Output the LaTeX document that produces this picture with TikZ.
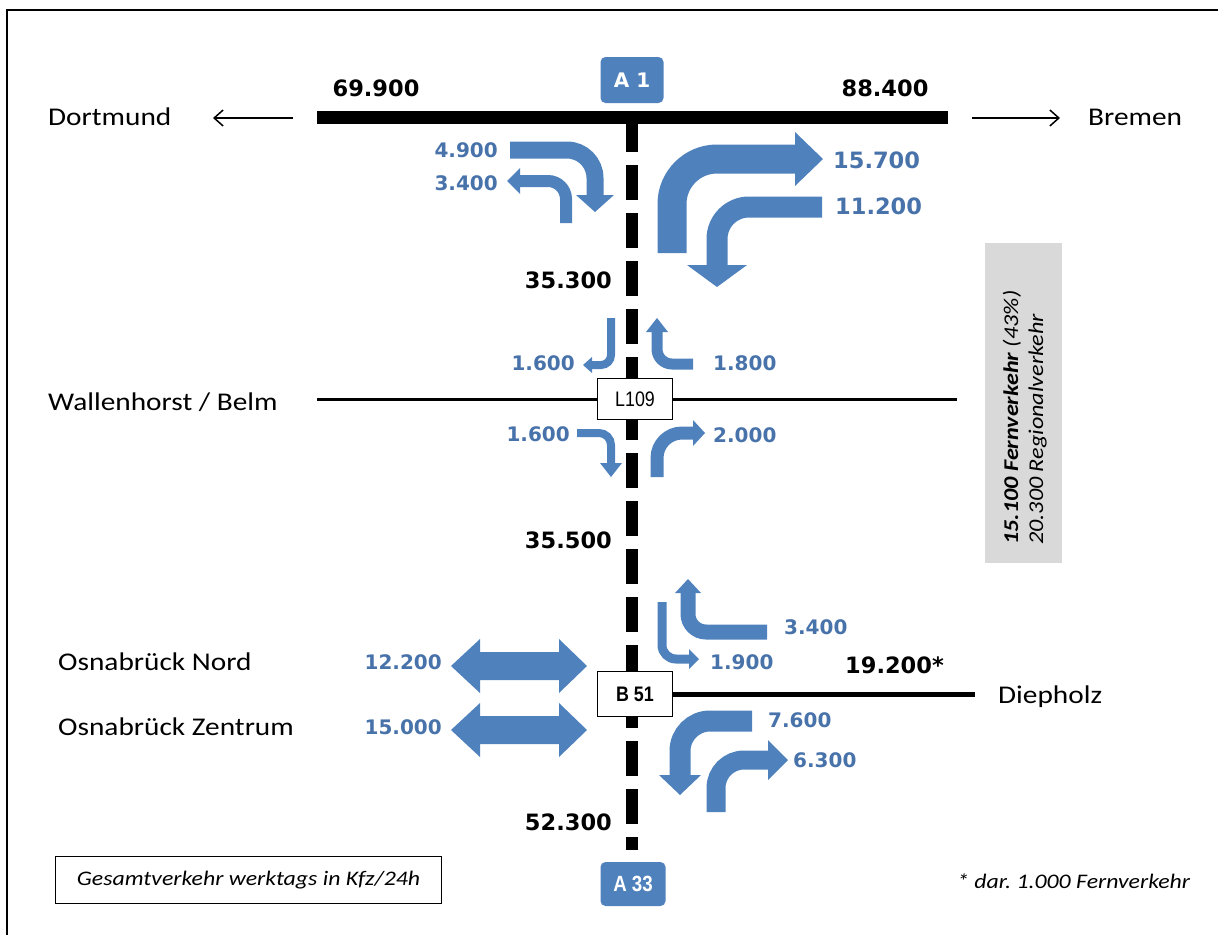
\documentclass[tikz,border=0pt]{standalone}
\usepackage{fontspec}
\usetikzlibrary{arrows.meta}
\frenchspacing
\newfontfamily\placefont[FakeStretch=1.15]{Carlito}
\newfontfamily\numfont{DejaVu Sans}
\newfontfamily\narrowfont[FakeStretch=0.85]{Liberation Sans}
\definecolor{arrowblue}{RGB}{79,129,189}
\definecolor{textblue}{RGB}{72,114,170}
\definecolor{panelgray}{RGB}{217,217,217}
\begin{document}
\begin{tikzpicture}[x=1pt,y=-1pt,
  place/.style={font=\placefont\fontsize{25.5}{30}\selectfont, inner sep=0pt, anchor=base west},
  bignum/.style={font=\numfont\bfseries\fontsize{22.5}{26}\selectfont, inner sep=0pt},
  bluenum/.style={font=\numfont\bfseries\fontsize{20}{24}\selectfont, text=textblue, inner sep=0pt},
  bluebig/.style={font=\numfont\bfseries\fontsize{22.5}{26}\selectfont, text=textblue, inner sep=0pt},
  flow/.style={draw=arrowblue, line width=#1},
  head/.style={fill=arrowblue, draw=none},
  shield/.style={fill=arrowblue, rounded corners=5pt, text=white, inner sep=0pt},
  junction/.style={draw=black, line width=1.2pt, fill=white, inner sep=0pt},
  road/.style={draw=black, line width=#1},
  thinarrow/.style={draw=black, line width=1.5pt, -{Straight Barb[length=9pt,width=16pt]}},
  note/.style={font=\placefont\itshape\fontsize{20.7}{24}\selectfont, inner sep=0pt},
]
\useasboundingbox (0,0) rectangle (1218,935);
% frame
\draw[line width=2.5pt] (7,935) -- (7,10) -- (1218,10);

% roads
\coordinate (dortW) at (317,117);
\coordinate (bremE) at (948,117);
\coordinate (a1top) at (632,117);
\coordinate (a33end) at (632,850);
\draw[road=13pt] (dortW) -- (bremE);
\draw[road=12pt, dash pattern=on 35pt off 13pt] (a1top) -- (a33end);

\node[junction, minimum width=75pt, minimum height=41pt, font=\narrowfont\fontsize{21}{24}\selectfont] (l109) at (635,399) {L109};
\coordinate (wallW) at (317,399);
\coordinate (belmE) at (957,399);
\draw[road=3pt] (wallW) -- (l109.west);
\draw[road=3pt] (l109.east) -- (belmE);

\node[junction, minimum width=75pt, minimum height=45pt, font=\narrowfont\bfseries\fontsize{21}{24}\selectfont] (b51) at (635,694) {B 51};
\coordinate (diepE) at (975,694);
\draw[road=5pt] (b51.east) -- (diepE);

% shields
\node[shield, minimum width=63pt, minimum height=46pt, font=\numfont\bfseries\fontsize{20}{24}\selectfont] (a1) at (632,80) {A 1};
\node[shield, minimum width=65pt, minimum height=44pt, font=\narrowfont\bfseries\fontsize{22}{24}\selectfont] (a33) at (633,884) {A 33};

% places
\node[place] (dortmund) at (48,125) {Dortmund};
\node[place] (bremen) at (1088,125) {Bremen};
\node[place] (wallen) at (48,410) {Wallenhorst / Belm};
\node[place] (osnord) at (58,670) {Osnabrück Nord};
\node[place] (oszent) at (58,735) {Osnabrück Zentrum};
\node[place] (diepholz) at (998,703) {Diepholz};

% direction arrows
\coordinate (dortArrS) at (293,118);
\coordinate (dortArrE) at (213,118);
\coordinate (bremArrS) at (972,118);
\coordinate (bremArrE) at (1060,118);
\draw[thinarrow] (dortArrS) -- (dortArrE);
\draw[thinarrow] (bremArrS) -- (bremArrE);

% totals
\node[bignum] (n699) at (376,88) {69.900};
\node[bignum] (n884) at (885,88) {88.400};
\node[bignum, anchor=east] (n353) at (612,280) {35.300};
\node[bignum, anchor=east] (n355) at (612,540) {35.500};
\node[bignum, anchor=east] (n523) at (612,822) {52.300};
\node[bignum, anchor=west] (n192) at (845,665) {19.200*};

% A1 flows
\draw[flow=17pt, rounded corners=28pt] (510,150) -| (595,196);
\fill[head] (576,195) -- (595,212) -- (614,195) -- cycle;
\draw[flow=12pt, rounded corners=18pt] (566,223) |- (519,181);
\fill[head] (520,168) -- (507,181) -- (520,194) -- cycle;
\draw[flow=29pt, rounded corners=45pt] (672,253) |- (796,159);
\fill[head] (795,132) -- (823,159) -- (795,186) -- cycle;
\draw[flow=21pt, rounded corners=32pt] (822,207) -| (717,266);
\fill[head] (687,265) -- (717,287) -- (747,265) -- cycle;
\node[bluenum, anchor=east] (f49) at (498,150) {4.900};
\node[bluenum, anchor=east] (f34a) at (498,183) {3.400};
\node[bluebig, anchor=west] (f157) at (833,160) {15.700};
\node[bluebig, anchor=west] (f112) at (835,206) {11.200};

% L109 flows
\draw[flow=8pt, rounded corners=10pt] (611,318) |- (591,365);
\fill[head] (592,357) -- (583,365) -- (592,373) -- cycle;
\draw[flow=11pt, rounded corners=15pt] (693,364) -| (657,331);
\fill[head] (646,332) -- (657,318) -- (668,332) -- cycle;
\draw[flow=8pt, rounded corners=12pt] (577,433) -| (611,464);
\fill[head] (600,463) -- (611,477) -- (622,463) -- cycle;
\draw[flow=13pt, rounded corners=25pt] (657,477) |- (694,433);
\fill[head] (693,420) -- (705,433) -- (693,446) -- cycle;
\node[bluenum, anchor=east] (f16a) at (575,363) {1.600};
\node[bluenum, anchor=west] (f18) at (713,363) {1.800};
\node[bluenum, anchor=east] (f16b) at (570,434) {1.600};
\node[bluenum, anchor=west] (f20) at (713,435) {2.000};

% B51 flows
\fill[arrowblue] (451,666) -- (480,639) -- (480,652) -- (559,652) -- (559,639) -- (587,666)
  -- (559,693) -- (559,680) -- (480,680) -- (480,693) -- cycle;
\fill[arrowblue] (451,730) -- (480,703) -- (480,716) -- (559,716) -- (559,703) -- (587,730)
  -- (559,757) -- (559,744) -- (480,744) -- (480,757) -- cycle;
\draw[flow=15pt, rounded corners=18pt] (767,632) -| (688,592);
\fill[head] (675,593) -- (688,579) -- (701,593) -- cycle;
\draw[flow=9pt, rounded corners=14pt] (662,602) |- (690,659);
\fill[head] (689,649) -- (699,659) -- (689,669) -- cycle;
\draw[flow=21pt, rounded corners=30pt] (752,721) -| (680,776);
\fill[head] (659,775) -- (680,795) -- (701,775) -- cycle;
\draw[flow=19pt, rounded corners=28pt] (716,812) |- (769,760);
\fill[head] (768,740) -- (788,760) -- (768,780) -- cycle;
\node[bluenum, anchor=east] (f122) at (442,662) {12.200};
\node[bluenum, anchor=east] (f150) at (442,727) {15.000};
\node[bluenum, anchor=west] (f34b) at (784,627) {3.400};
\node[bluenum, anchor=west] (f19) at (710,662) {1.900};
\node[bluenum, anchor=west] (f76) at (768,720) {7.600};
\node[bluenum, anchor=west] (f63) at (793,760) {6.300};

% side panel
\node[fill=panelgray, minimum width=77pt, minimum height=320pt, inner sep=0pt] (panel) at (1023.5,403) {};
\node[rotate=90, anchor=base west, inner sep=0pt, font=\placefont\itshape\fontsize{21}{24}\selectfont] (fern) at (1018,545) {\bfseries 15.100 Fernverkehr \mdseries (43\%)};
\node[rotate=90, anchor=base west, inner sep=0pt, font=\placefont\itshape\fontsize{21}{24}\selectfont] (regio) at (1043,545) {20.300 Regionalverkehr};

% legend and footnote
\node[draw, line width=1pt, anchor=west, minimum width=386pt, inner ysep=0pt, minimum height=47pt, font=\placefont\itshape\fontsize{20.7}{24}\selectfont] (legend) at (55,880) {Gesamtverkehr werktags in Kfz/24h};
\node[note, anchor=base west] (foot) at (957,888) {* dar. 1.000 Fernverkehr};
\end{tikzpicture}
\end{document}
